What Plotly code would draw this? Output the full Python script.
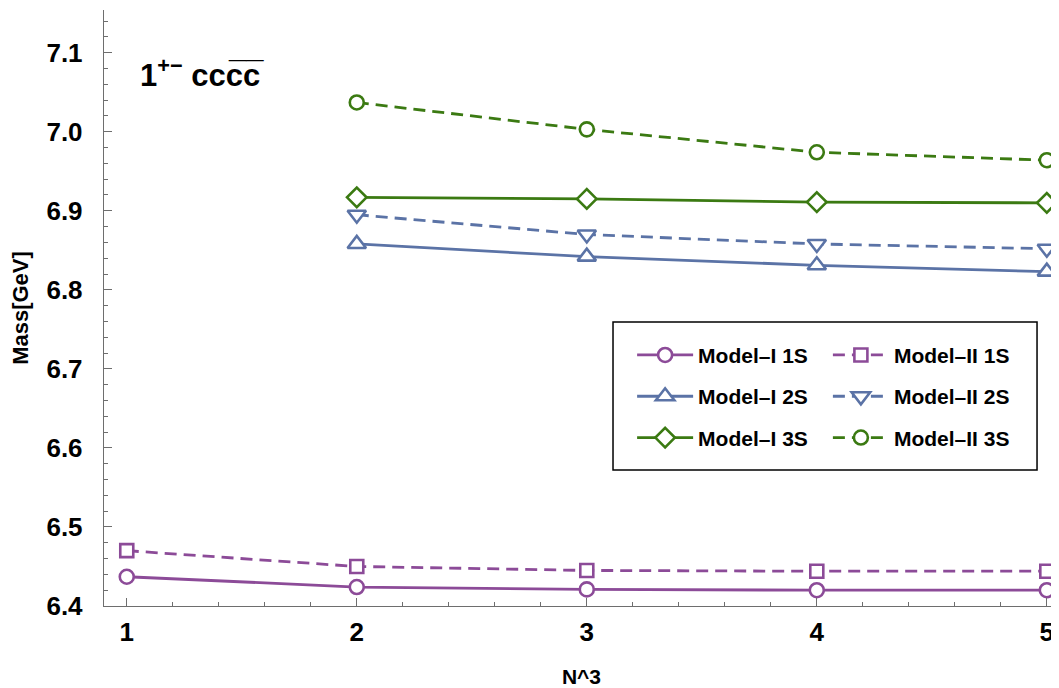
import plotly.graph_objects as go

# ---------------- data ----------------
n_all = [1, 2, 3, 4, 5]
n_hi = [2, 3, 4, 5]

model1_1s = [6.437, 6.424, 6.421, 6.420, 6.420]
model2_1s = [6.470, 6.450, 6.445, 6.444, 6.444]
model1_2s = [6.858, 6.842, 6.831, 6.823]
model2_2s = [6.895, 6.870, 6.858, 6.852]
model1_3s = [6.917, 6.915, 6.911, 6.910]
model2_3s = [7.037, 7.003, 6.974, 6.964]

y_ticks = [6.4, 6.5, 6.6, 6.7, 6.8, 6.9, 7.0, 7.1]
y_tick_labels = ["6.4", "6.5", "6.6", "6.7", "6.8", "6.9", "7.0", "7.1"]
x_ticks = [1, 2, 3, 4, 5]

PURPLE = "#8c4b98"
BLUE = "#5b73a6"
GREEN = "#3b7a12"
FONT = "Liberation Sans, Arial, sans-serif"
AXC = "#6e6e6e"

series = [
    ("Model–I 1S", n_all, model1_1s, PURPLE, "solid", "circle", 14, "legend"),
    ("Model–II 1S", n_all, model2_1s, PURPLE, "12px,7px", "square", 13, "legend2"),
    ("Model–I 2S", n_hi, model1_2s, BLUE, "solid", "triangle-up", 16, "legend"),
    ("Model–II 2S", n_hi, model2_2s, BLUE, "12px,7px", "triangle-down", 16, "legend2"),
    ("Model–I 3S", n_hi, model1_3s, GREEN, "solid", "diamond", 15, "legend"),
    ("Model–II 3S", n_hi, model2_3s, GREEN, "12px,7px", "circle", 14, "legend2"),
]

fig = go.Figure()
for name, xs, ys, col, dash, sym, size, leg in series:
    fig.add_trace(go.Scatter(
        x=xs, y=ys, name=name, mode="lines+markers",
        line=dict(color=col, width=2.8, dash=dash),
        marker=dict(symbol=sym, size=size, color="white",
                    line=dict(color=col, width=2.6)),
        legend=leg, legendgroup=name, cliponaxis=False,
    ))

legend_common = dict(
    font=dict(family=FONT, size=21, color="black", weight="bold"),
    bgcolor="rgba(0,0,0,0)", borderwidth=0,
    tracegroupgap=11, itemwidth=56,
    xanchor="left", yanchor="top", orientation="v",
)

# the page body has an 8px margin, so the figure is drawn 8px in and 8px down
fig.update_layout(
    width=1051, height=680,
    margin=dict(l=96, r=0, t=2, b=82),
    paper_bgcolor="white", plot_bgcolor="white",
    font=dict(family=FONT, color="black"),
    showlegend=True,
    legend=dict(x=0.553, y=0.455, **legend_common),
    legend2=dict(x=0.758, y=0.455, **legend_common),
    xaxis=dict(
        range=[0.901, 5.053], showgrid=False, zeroline=False, automargin=False,
        showline=True, linecolor=AXC, linewidth=1,
        tickvals=x_ticks, ticks="inside", ticklen=8, tickcolor=AXC,
        ticklabelstandoff=3,
        tickfont=dict(family=FONT, size=26, color="black", weight="bold"),
        minor=dict(dtick=0.2, tick0=1, ticks="inside", ticklen=4, tickcolor=AXC),
        title=dict(text="<b>N^3</b>", font=dict(family=FONT, size=21, color="black"), standoff=25),
    ),
    yaxis=dict(
        range=[6.4, 7.154], showgrid=False, zeroline=False, automargin=False,
        showline=True, linecolor=AXC, linewidth=1,
        tickvals=y_ticks, ticktext=[t + "\u2009" for t in y_tick_labels],
        ticks="inside", ticklen=8, tickcolor=AXC,
        ticklabelstandoff=10,
        tickfont=dict(family=FONT, size=26, color="black", weight="bold"),
        minor=dict(dtick=0.02, tick0=6.4, ticks="inside", ticklen=4, tickcolor=AXC),
        title=dict(text="<b>Mass[GeV]</b>", font=dict(family=FONT, size=22, color="black"), standoff=12),
    ),
    shapes=[dict(type="rect", xref="paper", yref="paper",
                 x0=0.533, x1=0.977, y0=0.228, y1=0.4765,
                 line=dict(color="black", width=1.5), fillcolor="rgba(0,0,0,0)", layer="above")],
    annotations=[dict(
        xref="paper", yref="paper", x=0.036, y=0.894, xanchor="left", yanchor="middle",
        showarrow=False,
        text="<b>1<sup>+−</sup> ccc\u0305c\u0305</b>",
        font=dict(family=FONT, size=31, color="black"),
    )],
)

fig.write_html("out.html")
